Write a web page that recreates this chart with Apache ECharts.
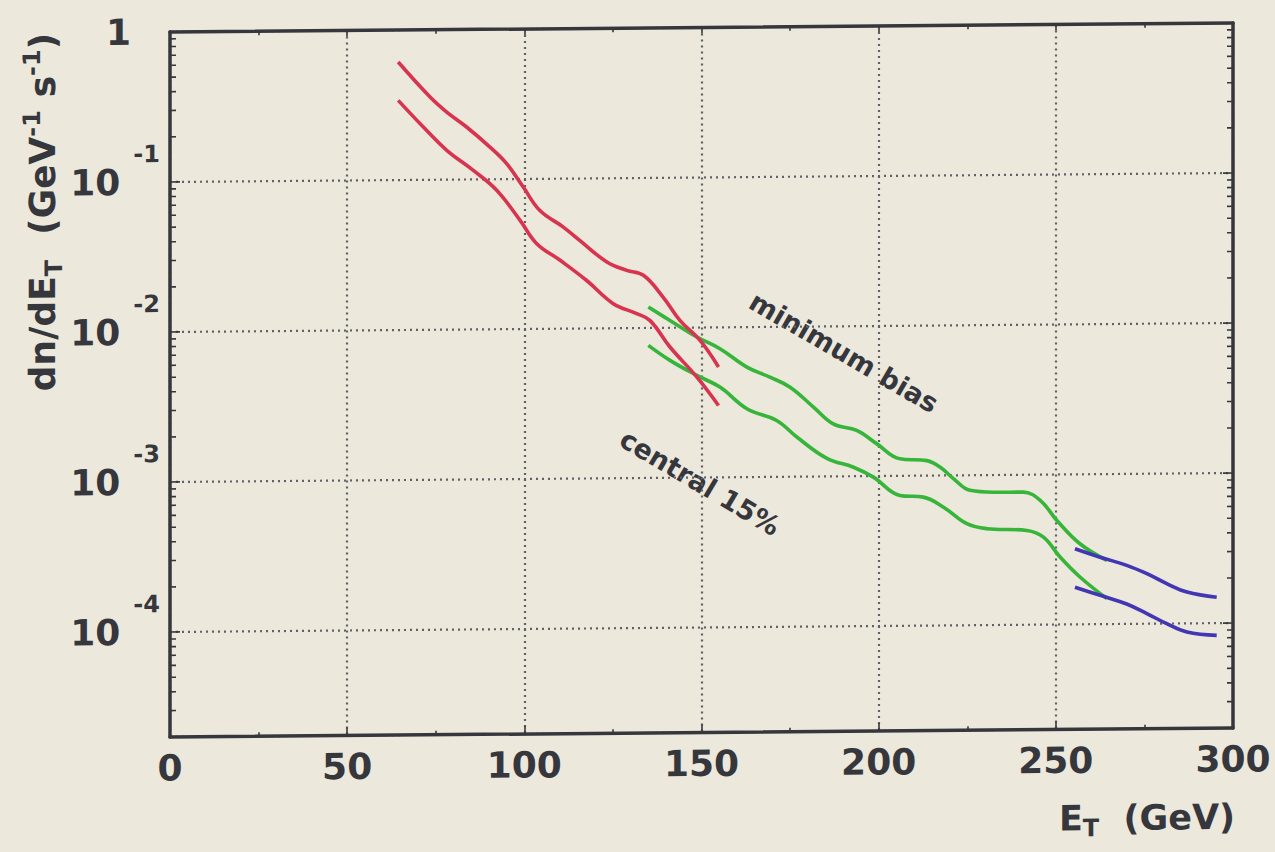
<!DOCTYPE html>
<html>
<head>
<meta charset="utf-8">
<script src="https://cdn.jsdelivr.net/npm/echarts@6/dist/echarts.min.js"></script>
<style>
  html, body { margin: 0; padding: 0; background: #ece8db; }
  /* the scanned sheet sits slightly sheared: right side is a few px higher */
  #chart { width: 1275px; height: 852px; transform: skewY(-0.485deg); transform-origin: 170px 0; }
</style>
</head>
<body>
<div id="chart"></div>
<script>
// Axis ranges
const xMin = 0, xMax = 300, xStep = 50;
const yMin = 2e-5, yMax = 1;

// dN/dE_T curves, [E_T (GeV), rate (GeV^-1 s^-1)]
const minBiasRed = [
  [64.4, 0.612], [73.4, 0.356], [78.1, 0.282], [83.7, 0.224], [90.3, 0.164],
  [95.0, 0.127], [99.7, 0.0885], [104.4, 0.0615], [111.0, 0.0476], [115.7, 0.0386],
  [123.3, 0.0277], [128.9, 0.0243], [133.6, 0.0225], [139.2, 0.0160], [143.9, 0.0112],
  [149.6, 0.00822], [154.8, 0.00545]
];
const central15Red = [
  [64.4, 0.340], [71.5, 0.225], [78.1, 0.157], [85.6, 0.115], [92.2, 0.0844],
  [98.8, 0.0531], [103.5, 0.0370], [110.1, 0.0286], [117.6, 0.0209], [125.1, 0.0146],
  [131.7, 0.0125], [135.5, 0.0112], [141.1, 0.00745], [148.7, 0.00468], [154.8, 0.00302]
];
const minBiasGreen = [
  [135.0, 0.0138], [141.1, 0.0112], [148.7, 0.00865], [155.2, 0.00721], [162.8, 0.00542],
  [169.3, 0.00463], [175.0, 0.00396], [181.6, 0.00291], [187.2, 0.00224], [193.8, 0.00202],
  [199.5, 0.00164], [206.0, 0.00130], [213.6, 0.00126], [217.3, 0.00114], [221.1, 0.000953],
  [225.8, 0.000794], [233.3, 0.000769], [240.8, 0.000767], [245.6, 0.000675], [250.3, 0.000495],
  [256.8, 0.000345], [264.4, 0.000266]
];
const central15Green = [
  [135.0, 0.00766], [141.1, 0.00607], [148.7, 0.00480], [155.2, 0.00400], [162.8, 0.00286],
  [171.2, 0.00238], [176.9, 0.00184], [185.4, 0.00132], [192.9, 0.00115], [198.5, 0.000985],
  [206.0, 0.000741], [212.6, 0.000720], [218.3, 0.000615], [224.9, 0.000476], [230.5, 0.000440],
  [241.8, 0.000426], [246.5, 0.000384], [251.2, 0.000282], [256.8, 0.000207], [264.4, 0.000148]
];
const minBiasBlue = [
  [255.4, 0.000320], [262.5, 0.000280], [270.0, 0.000246], [275.7, 0.000216],
  [281.3, 0.000185], [287.0, 0.000162], [295.4, 0.000149]
];
const central15Blue = [
  [255.4, 0.000177], [262.5, 0.000156], [270.0, 0.000136], [275.7, 0.000117],
  [281.3, 0.000100], [287.0, 0.0000877], [295.4, 0.0000830]
];

// Minor log ticks: 2..9 x 10^k inside the y range
const minorMultipliers = [2, 3, 4, 5, 6, 7, 8, 9];
const minorDecades = [-5, -4, -3, -2, -1];
const minorTickValues = [];
minorDecades.forEach(function (k) {
  minorMultipliers.forEach(function (m) {
    const v = m * Math.pow(10, k);
    if (v >= yMin && v <= yMax) minorTickValues.push([xMin, v]);
  });
});

const ink = '#36373d';
const font = 'DejaVu Sans';
const red = '#d8344f', green = '#36b53a', blue = '#4236b4';

const frameLine = { show: true, onZero: false, lineStyle: { color: ink, width: 3.5 } };
const gridDots = { show: true, lineStyle: { color: '#5f6168', width: 2.2, type: [2, 4] } };

function yLabel(value) {
  const e = Math.log10(value);
  const r = Math.round(e);
  if (Math.abs(e - r) > 1e-6) return '';
  if (r === 0) return '{one|1}';
  return '{b|10}{e|' + r + '}';
}

const chart = echarts.init(document.getElementById('chart'), null, { renderer: 'svg' });

function lineSeries(name, data, color, z) {
  return {
    name: name, type: 'line', data: data, xAxisIndex: 0, yAxisIndex: 0,
    showSymbol: false, symbol: 'none', smooth: 0.4,
    lineStyle: { color: color, width: 3.6 }, z: z, silent: true
  };
}

chart.setOption({
  backgroundColor: '#ece8db',
  animation: false,
  grid: { left: 170, right: 42, top: 32, bottom: 115, containLabel: false },
  xAxis: [
    {
      type: 'value', min: xMin, max: xMax, interval: xStep, position: 'bottom',
      axisLine: frameLine,
      axisTick: { show: true, inside: true, length: 8, lineStyle: { color: ink, width: 1.6 } },
      minorTick: { show: true, splitNumber: 2, length: 4, lineStyle: { color: ink, width: 1.6 } },
      splitLine: gridDots,
      axisLabel: { show: true, margin: 13, color: ink, fontFamily: font, fontWeight: 'bold', fontSize: 36 }
    },
    {
      type: 'value', min: xMin, max: xMax, interval: xStep, position: 'top',
      axisLine: frameLine,
      axisTick: { show: true, inside: true, length: 6, lineStyle: { color: ink, width: 1.6 } },
      minorTick: { show: true, splitNumber: 2, length: 4, lineStyle: { color: ink, width: 1.6 } },
      splitLine: { show: false }, axisLabel: { show: false }
    }
  ],
  yAxis: [
    {
      type: 'log', logBase: 10, min: yMin, max: yMax, position: 'left',
      axisLine: frameLine,
      axisTick: { show: true, inside: true, length: 10, lineStyle: { color: ink, width: 1.6 } },
      splitLine: gridDots,
      axisLabel: {
        show: true, margin: 10, color: ink, formatter: yLabel,
        rich: {
          one: { fontFamily: font, fontWeight: 'bold', fontSize: 36, lineHeight: 36, color: ink, padding: [0, 29, 0, 0], verticalAlign: 'middle' },
          b: { fontFamily: font, fontWeight: 'bold', fontSize: 36, lineHeight: 36, color: ink, verticalAlign: 'middle' },
          e: { fontFamily: font, fontWeight: 'bold', fontSize: 24, lineHeight: 24, color: ink, padding: [0, 0, 56, 13], verticalAlign: 'middle' }
        }
      }
    },
    {
      type: 'log', logBase: 10, min: yMin, max: yMax, position: 'right',
      axisLine: frameLine,
      axisTick: { show: true, inside: true, length: 10, lineStyle: { color: ink, width: 1.6 } },
      splitLine: { show: false }, axisLabel: { show: false }
    }
  ],
  series: [
    {
      name: 'minor ticks', type: 'custom', xAxisIndex: 0, yAxisIndex: 0,
      data: minorTickValues, silent: true, z: 5,
      renderItem: function (params, api) {
        const v = api.value(1);
        const l = api.coord([xMin, v]);
        const r = api.coord([xMax, v]);
        const st = { stroke: ink, lineWidth: 1.6 };
        return {
          type: 'group', children: [
            { type: 'line', shape: { x1: l[0], y1: l[1], x2: l[0] + 6, y2: l[1] }, style: st },
            { type: 'line', shape: { x1: r[0] - 6, y1: r[1], x2: r[0], y2: r[1] }, style: st }
          ]
        };
      }
    },
    lineSeries('minimum bias (green)', minBiasGreen, green, 3),
    lineSeries('central 15% (green)', central15Green, green, 3),
    lineSeries('minimum bias (red)', minBiasRed, red, 4),
    lineSeries('central 15% (red)', central15Red, red, 4),
    lineSeries('minimum bias (blue)', minBiasBlue, blue, 4),
    lineSeries('central 15% (blue)', central15Blue, blue, 4)
  ],
  graphic: [
    {
      type: 'text', x: 43, y: 211, rotation: Math.PI / 2, silent: true,
      style: {
        text: '{m|dn/dE}{s|T}{m|  (GeV}{p|-1}{m| s}{p|-1}{m|)}',
        align: 'center', verticalAlign: 'middle',
        rich: {
          m: { fontFamily: font, fontWeight: 'bold', fontSize: 36, lineHeight: 46, fill: ink, verticalAlign: 'middle' },
          s: { fontFamily: font, fontWeight: 'bold', fontSize: 24, lineHeight: 24, fill: ink, verticalAlign: 'bottom' },
          p: { fontFamily: font, fontWeight: 'bold', fontSize: 24, lineHeight: 24, fill: ink, verticalAlign: 'top' }
        }
      }
    },
    {
      type: 'text', x: 1147, y: 826, silent: true,
      style: {
        text: '{m|E}{s|T}{m|  (GeV)}',
        align: 'center', verticalAlign: 'middle',
        rich: {
          m: { fontFamily: font, fontWeight: 'bold', fontSize: 35, lineHeight: 44, fill: ink, verticalAlign: 'middle' },
          s: { fontFamily: font, fontWeight: 'bold', fontSize: 24, lineHeight: 24, fill: ink, verticalAlign: 'bottom' }
        }
      }
    },
    {
      type: 'text', x: 844, y: 358, rotation: -0.532, silent: true,
      style: { text: 'minimum bias', align: 'center', verticalAlign: 'middle', fontFamily: font, fontWeight: 'bold', fontSize: 27, fill: ink }
    },
    {
      type: 'text', x: 700, y: 487, rotation: -0.54, silent: true,
      style: { text: 'central 15%', align: 'center', verticalAlign: 'middle', fontFamily: font, fontWeight: 'bold', fontSize: 27, fill: ink }
    }
  ]
});
</script>
</body>
</html>
